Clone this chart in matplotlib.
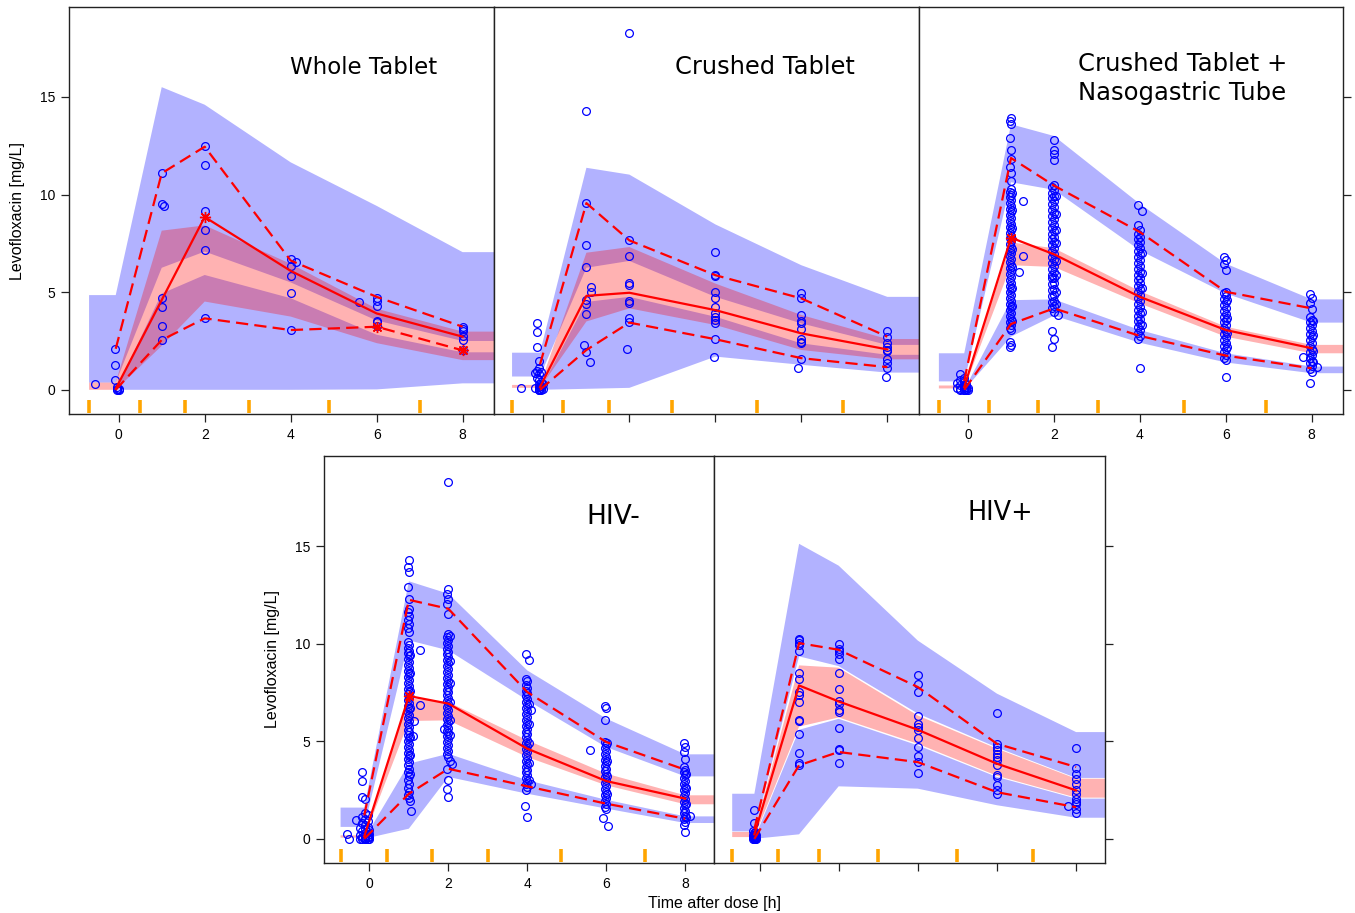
import numpy as np
import matplotlib
matplotlib.use("Agg")
import matplotlib.pyplot as plt
from matplotlib.transforms import blended_transform_factory

plt.rcParams['font.family'] = ['Liberation Sans', 'DejaVu Sans']

# ---------------- Whole Tablet ----------------
wt_bins = [-0.07, 1, 2, 4, 6, 8]
wt_edges = [-0.69, 0.50, 1.53, 3.02, 4.88, 7.0]
wt_ci05 = [[0, 0, 0, 0, 0.02, 0.33], [0, 4.93, 5.88, 4.69, 2.82, 1.92]]
wt_ci50 = [[0, 2.25, 4.52, 3.75, 2.39, 1.52], [0.37, 8.15, 8.42, 6.45, 4.15, 2.98]]
wt_ci95 = [[0.37, 6.25, 7.08, 5.5, 3.55, 2.5], [4.85, 15.5, 14.6, 11.65, 9.42, 7.05]]
wt_obs05 = [0, 2.55, 3.66, 3.06, 3.23, 2.02]
wt_obs50 = [0.05, 4.6, 8.85, 6.09, 3.91, 2.72]
wt_obs95 = [2.1, 11.09, 12.45, 6.62, 4.76, 3.23]
wt_pts = {
    -0.55: [0.3],
    -0.09: [2.08, 1.25, 0.51],
    -0.05: [0.14, 0.05, 0.0],
    0.0: [0.02, 0.0],
    1.0: [11.09, 9.52, 4.68, 4.25, 3.27, 2.55],
    1.05: [9.39],
    2.0: [12.5, 11.5, 9.18, 8.16, 7.14, 3.66],
    4.0: [6.72, 6.34, 5.82, 4.98, 3.06],
    4.12: [6.55],
    5.6: [4.5],
    6.0: [4.71, 4.54, 4.3, 3.54, 3.45, 3.26],
    8.0: [3.23, 3.1, 3.02, 2.76, 2.53, 2.05],
}

# ---------------- Crushed Tablet ----------------
ct_bins = [-0.08, 1, 2, 4, 6, 8]
ct_edges = [-0.73, 0.46, 1.52, 2.99, 4.97, 6.98]
ct_ci05 = [[0, 0.05, 0.1, 1.7, 1.28, 0.88], [0, 4.5, 4.76, 3.74, 2.38, 1.79]]
ct_ci50 = [[0.1, 3.5, 4.17, 3.32, 2.04, 1.56], [0.25, 7.02, 7.31, 5.44, 3.83, 2.6]]
ct_ci95 = [[0.68, 6.25, 6.6, 4.76, 3.4, 2.3], [1.9, 11.37, 11.02, 8.47, 6.38, 4.76]]
ct_obs05 = [0, 2.04, 3.44, 2.59, 1.62, 1.16]
ct_obs50 = [0.14, 4.81, 4.97, 4.08, 2.89, 2.07]
ct_obs95 = [1.3, 9.56, 7.65, 5.87, 4.68, 2.72]
ct_pts = {
    -0.52: [0.07],
    -0.2: [0.85, 0.1],
    -0.16: [3.4, 2.94, 2.18, 0.94, 0.6],
    -0.1: [1.5, 1.1, 0.8, 0.5, 0.3, 0.15, 0.05, 0.0, 0.0],
    -0.05: [0.9, 0.4, 0.2, 0.1, 0.0],
    0.0: [0.3, 0.05],
    0.95: [2.3],
    1.0: [14.3, 9.56, 7.4, 6.28, 4.6, 4.39, 3.88, 1.96],
    1.08: [1.43],
    1.1: [5.24, 5.02],
    1.95: [2.09],
    2.0: [18.27, 7.65, 6.84, 5.48, 5.36, 4.56, 4.47, 3.66, 3.49],
    3.96: [1.67],
    4.0: [7.06, 5.87, 5.82, 5.02, 4.71, 4.25, 3.95, 3.74, 3.6, 3.4, 2.6],
    5.93: [1.1],
    6.0: [4.98, 4.68, 3.83, 3.52, 3.43, 3.11, 2.6, 2.47, 2.38, 1.58],
    7.97: [0.68],
    8.0: [3.0, 2.69, 2.38, 2.21, 2.04, 2.0, 1.56, 1.36, 1.1],
}

# ---------------- Crushed Tablet + Nasogastric Tube ----------------
ng_bins = [-0.09, 1, 2, 4, 6, 8]
ng_edges = [-0.68, 0.48, 1.62, 3.03, 5.03, 6.93]
ng_ci05 = [[0, 2.72, 3.8, 2.41, 1.4, 0.85], [0, 4.59, 4.63, 3.06, 1.87, 1.19]]
ng_ci50 = [[0.07, 6.38, 6.29, 4.42, 2.72, 1.87], [0.22, 7.55, 7.25, 5.05, 3.23, 2.3]]
ng_ci95 = [[0.43, 10.63, 10.24, 7.14, 4.93, 3.44], [1.87, 13.6, 13.0, 9.52, 6.46, 4.63]]
ng_obs05 = [0, 3.37, 4.17, 2.76, 1.75, 1.1]
ng_obs50 = [0.14, 7.79, 6.94, 4.76, 3.06, 2.13]
ng_obs95 = [0.45, 11.87, 10.46, 8.08, 5.02, 4.17]
ng_pts = {
    -0.25: [0.35, 0.1],
    -0.18: [0.8, 0.5, 0.25, 0.05, 0.0],
    -0.1: [0.6, 0.4, 0.2, 0.1, 0.0, 0.0],
    -0.04: [0.3, 0.15, 0.05, 0.0],
    0.0: [0.1, 0.0],
    0.97: [13.75, 12.9, 11.4, 10.15, 9.85, 9.55, 9.25, 8.95, 8.65, 8.35, 8.05, 7.75, 7.45, 7.15,
           6.85, 6.55, 6.25, 5.95, 5.6, 5.3, 5.0, 4.7, 4.4, 4.1, 3.8, 3.45, 3.15, 2.45, 2.2],
    1.0: [13.9, 13.6, 12.3, 11.8, 11.1, 10.7, 10.3, 10.0, 9.7, 9.4, 9.1, 8.8, 8.5, 8.2, 7.9, 7.6,
          7.3, 7.0, 6.7, 6.4, 6.1, 5.8, 5.45, 5.15, 4.85, 4.55, 4.25, 3.95, 3.65, 3.3, 3.05, 2.3],
    1.03: [10.1, 9.2, 8.3, 7.2, 6.3, 5.2, 4.3, 3.5],
    1.18: [6.04],
    1.29: [9.66, 6.84],
    1.96: [10.4, 10.1, 9.8, 9.5, 9.2, 8.9, 8.6, 8.3, 8.0, 7.7, 7.4, 7.1, 6.8, 6.5, 6.2, 5.9,
           5.7, 5.4, 5.1, 4.8, 4.5, 4.2, 3.0, 2.2],
    2.0: [12.8, 12.3, 12.07, 11.77, 10.5, 10.25, 9.95, 9.65, 9.35, 9.05, 8.75, 8.45, 8.15, 7.85,
          7.55, 7.25, 6.95, 6.65, 6.35, 6.05, 5.75, 5.45, 5.15, 4.85, 4.55, 4.3, 4.0, 2.6],
    2.04: [9.9, 9.0, 8.2, 7.5, 6.6, 5.9, 5.0, 4.4],
    2.1: [3.85],
    3.96: [9.44, 8.42, 8.0, 7.7, 7.4, 7.1, 6.8, 6.5, 6.2, 5.9, 5.6, 5.3, 5.0, 4.7, 4.4, 4.1,
           3.8, 3.5, 3.2, 2.9, 2.6],
    4.0: [8.16, 7.85, 7.55, 7.25, 6.95, 6.65, 6.35, 6.05, 5.75, 5.45, 5.15, 4.85, 4.55, 4.25,
          3.95, 3.65, 3.35, 3.05, 2.75, 1.14],
    4.05: [9.15, 7.0, 6.0, 5.2, 4.0, 3.3],
    5.97: [6.8, 6.46, 4.95, 4.65, 4.35, 4.05, 3.75, 3.45, 3.15, 2.85, 2.55, 2.25, 1.95, 1.65],
    6.0: [6.67, 6.12, 5.0, 4.8, 4.5, 4.2, 3.9, 3.6, 3.3, 3.0, 2.7, 2.4, 2.1, 1.8, 1.53, 0.65],
    6.03: [4.6, 3.7, 2.9, 2.2],
    7.8: [1.7],
    7.97: [4.93, 4.42, 3.74, 3.45, 3.15, 2.85, 2.55, 2.25, 1.95, 1.65, 1.35, 1.05, 0.34],
    8.0: [4.68, 4.12, 3.6, 3.3, 3.0, 2.7, 2.4, 2.1, 1.8, 1.5, 1.2, 0.9],
    8.03: [3.5, 2.8, 2.0, 1.4],
    8.13: [1.19],
}

# ---------------- HIV- ----------------
hn_bins = [-0.13, 1, 2, 4, 6, 8]
hn_edges = [-0.73, 0.45, 1.59, 3.0, 4.86, 6.99]
hn_ci05 = [[0, 0.52, 3.17, 2.31, 1.55, 0.81], [0, 3.85, 4.36, 3.0, 2.0, 1.15]]
hn_ci50 = [[0.06, 6.04, 6.07, 4.19, 2.74, 1.77], [0.18, 7.2, 7.01, 5.05, 3.34, 2.23]]
hn_ci95 = [[0.61, 10.17, 9.66, 7.1, 4.7, 3.2], [1.6, 13.2, 12.56, 8.63, 6.16, 4.33]]
hn_obs05 = [0, 2.31, 3.59, 2.69, 1.8, 1.03]
hn_obs50 = [0.12, 7.32, 6.93, 4.62, 2.96, 2.06]
hn_obs95 = [1.2, 12.25, 11.79, 7.52, 4.96, 3.54]
hn_pts = {
    -0.57: [0.26],
    -0.52: [0.0],
    -0.35: [0.95],
    -0.25: [0.55, 0.2, 0.0],
    -0.2: [3.42, 2.95, 2.15, 1.1, 0.8, 0.4, 0.1, 0.0],
    -0.1: [2.06, 1.3, 1.0, 0.7, 0.5, 0.3, 0.15, 0.05, 0.0, 0.0],
    -0.04: [1.2, 0.9, 0.6, 0.35, 0.2, 0.1, 0.0],
    0.0: [0.45, 0.25, 0.1, 0.0],
    0.97: [13.95, 12.9, 11.6, 11.2, 10.8, 10.1, 9.8, 9.5, 9.2, 8.9, 8.6, 8.3, 8.0, 7.7, 7.4, 7.1,
           6.8, 6.5, 6.2, 5.9, 5.6, 5.3, 5.0, 4.7, 4.4, 4.1, 3.8, 3.4, 3.0, 2.6, 2.25],
    1.0: [14.3, 13.7, 12.3, 11.8, 11.4, 11.0, 10.6, 9.95, 9.65, 9.35, 9.05, 8.75, 8.45, 8.15,
          7.85, 7.55, 7.25, 6.95, 6.65, 6.35, 6.05, 5.75, 5.45, 5.15, 4.85, 4.55, 4.25, 3.95,
          3.6, 3.2, 2.8, 2.4, 2.1],
    1.03: [9.4, 8.5, 7.6, 6.7, 5.2, 4.3, 3.3, 1.95],
    1.06: [1.41],
    1.1: [5.25],
    1.14: [6.03],
    1.27: [9.66, 6.84],
    1.9: [5.64],
    1.96: [12.56, 12.05, 10.35, 10.05, 9.75, 9.45, 9.15, 8.85, 8.55, 8.25, 7.95, 7.65, 7.35,
           7.05, 6.75, 6.45, 6.15, 5.85, 5.55, 5.25, 4.95, 4.65, 4.35, 3.6, 2.57],
    2.0: [18.31, 12.82, 12.3, 11.54, 10.5, 10.2, 9.9, 9.6, 9.3, 9.0, 8.7, 8.4, 8.1, 7.8, 7.5,
          7.2, 6.9, 6.6, 6.3, 6.0, 5.7, 5.4, 5.1, 4.8, 4.5, 4.2, 3.0, 2.14],
    2.04: [10.4, 9.1, 8.0, 7.0, 6.1, 5.3, 4.0],
    2.09: [3.85],
    3.94: [1.66],
    3.97: [9.45, 8.2, 7.9, 7.6, 7.3, 7.0, 6.7, 6.4, 6.1, 5.8, 5.5, 5.2, 4.9, 4.6, 4.3, 4.0,
           3.7, 3.4, 3.1, 2.8, 2.5],
    4.0: [8.1, 7.75, 7.45, 7.15, 6.85, 6.55, 6.25, 5.95, 5.65, 5.35, 5.05, 4.75, 4.45, 4.15,
          3.85, 3.55, 3.25, 2.95, 2.65, 1.12],
    4.04: [9.18, 6.9, 5.9, 4.9, 3.9, 3.0],
    4.1: [6.58, 2.8],
    5.6: [4.53],
    5.93: [1.08],
    5.97: [6.79, 6.1, 4.96, 4.65, 4.35, 4.05, 3.75, 3.45, 3.15, 2.85, 2.55, 2.25, 1.95, 1.65],
    6.0: [6.72, 4.8, 4.5, 4.2, 3.9, 3.6, 3.3, 3.0, 2.7, 2.4, 2.1, 1.8, 1.55],
    6.03: [4.9, 4.0, 3.2, 2.3],
    6.04: [0.64],
    7.97: [4.91, 4.45, 3.68, 3.4, 3.1, 2.8, 2.5, 2.2, 1.9, 1.6, 1.3, 1.0, 0.7],
    8.0: [4.7, 4.1, 3.55, 3.25, 2.95, 2.65, 2.35, 2.05, 1.75, 1.45, 1.15, 0.85, 0.35],
    8.03: [3.3, 2.6, 1.8, 1.1],
    8.12: [1.17],
}

# ---------------- HIV+ ----------------
hp_bins = [-0.13, 1, 2, 4, 6, 8]
hp_edges = [-0.69, 0.46, 1.50, 3.0, 5.0, 6.91]
hp_ci05 = [[0, 0.23, 2.69, 2.57, 1.72, 1.08], [0, 5.59, 6.15, 4.79, 3.17, 2.06]]
hp_ci50 = [[0.09, 5.75, 6.22, 4.87, 3.23, 2.11], [0.35, 8.89, 8.77, 6.32, 4.62, 3.08]]
hp_ci95 = [[0.38, 9.35, 8.85, 6.42, 4.68, 3.12], [2.31, 15.12, 14.0, 10.16, 7.44, 5.47]]
hp_obs05 = [0, 3.77, 4.45, 3.93, 2.39, 1.62]
hp_obs50 = [0.23, 7.86, 7.04, 5.59, 3.85, 2.48]
hp_obs95 = [0.5, 10.03, 9.69, 7.78, 4.87, 3.68]
hp_pts = {
    -0.16: [0.4, 0.2, 0.1, 0.0],
    -0.14: [1.46, 0.83, 0.3, 0.15, 0.05, 0.0],
    -0.12: [0.35, 0.25, 0.1, 0.0],
    -0.1: [0.2, 0.05, 0.0],
    1.0: [10.25, 10.17, 10.03, 9.91, 9.65, 8.5, 8.2, 7.55, 7.35, 7.0, 6.1, 6.03, 5.39, 4.4,
          3.88, 3.77],
    2.0: [10.0, 9.74, 9.62, 9.45, 9.23, 8.5, 7.66, 7.04, 6.92, 6.62, 6.5, 5.7, 4.62, 4.53, 3.88],
    4.0: [8.41, 7.91, 7.52, 6.32, 5.9, 5.73, 5.56, 5.18, 4.7, 4.23, 3.93, 3.39],
    6.0: [6.45, 4.87, 4.7, 4.53, 4.36, 4.19, 4.02, 3.76, 3.25, 3.17, 2.74, 2.48, 2.31],
    7.8: [1.66],
    8.0: [4.65, 3.65, 3.34, 3.08, 2.79, 2.52, 2.31, 2.06, 1.89, 1.77, 1.55, 1.32],
}

W, H = 1355, 913
top_y, top_h = (913 - 414.3) / H, 407.6 / H
bot_y, bot_h = (913 - 863.3) / H, 407.3 / H

panels = [
    dict(pos=[69.3 / W, top_y, 424.7 / W, top_h], bins=wt_bins, edges=wt_edges,
         ci=(wt_ci05, wt_ci50, wt_ci95), obs=(wt_obs05, wt_obs50, wt_obs95), pts=wt_pts,
         left=True, right=False, xlab=True,
         titles=[('Whole Tablet', 0.520, 0.835, 16.5)]),
    dict(pos=[494 / W, top_y, 424.7 / W, top_h], bins=ct_bins, edges=ct_edges,
         ci=(ct_ci05, ct_ci50, ct_ci95), obs=(ct_obs05, ct_obs50, ct_obs95), pts=ct_pts,
         left=False, right=False, xlab=False,
         titles=[('Crushed Tablet', 0.4265, 0.835, 17.4)]),
    dict(pos=[918.7 / W, top_y, 424.3 / W, top_h], bins=ng_bins, edges=ng_edges,
         ci=(ng_ci05, ng_ci50, ng_ci95), obs=(ng_obs05, ng_obs50, ng_obs95), pts=ng_pts,
         left=False, right=True, xlab=True,
         titles=[('Crushed Tablet +', 0.3755, 0.843, 17.5),
                 ('Nasogastric Tube', 0.3755, 0.771, 17.5)]),
    dict(pos=[324 / W, bot_y, 390 / W, bot_h], bins=hn_bins, edges=hn_edges,
         ci=(hn_ci05, hn_ci50, hn_ci95), obs=(hn_obs05, hn_obs50, hn_obs95), pts=hn_pts,
         left=True, right=False, xlab=True,
         titles=[('HIV-', 0.6716, 0.833, 19)]),
    dict(pos=[714 / W, bot_y, 391 / W, bot_h], bins=hp_bins, edges=hp_edges,
         ci=(hp_ci05, hp_ci50, hp_ci95), obs=(hp_obs05, hp_obs50, hp_obs95), pts=hp_pts,
         left=False, right=True, xlab=False,
         titles=[('HIV+', 0.648, 0.843, 18.4)]),
]

fig = plt.figure(figsize=(W / 100, H / 100), dpi=100)

for p in panels:
    ax = fig.add_axes(p['pos'])
    x = np.asarray(p['bins'], float)
    xs = np.r_[p['edges'][0], x, 9.6]
    ci05, ci50, ci95 = p['ci']

    # simulated confidence bands
    for ci, col in [(ci05, 'blue'), (ci95, 'blue'), (ci50, 'red')]:
        lo = np.asarray(ci[0], float)
        hi = np.asarray(ci[1], float)
        ax.fill_between(xs, np.r_[lo[0], lo, lo[-1]], np.r_[hi[0], hi, hi[-1]],
                        facecolor=col, alpha=0.3, lw=0, zorder=1)

    # observations
    for t, cs in p['pts'].items():
        ax.plot([t] * len(cs), cs, 'o', ms=5.6, mfc='none', mec='blue', mew=0.9, zorder=3)

    # observed percentiles
    o05, o50, o95 = p['obs']
    ax.plot(x, o50, '-', color='red', lw=1.6, zorder=4)
    ax.plot(x, o05, '--', color='red', lw=1.6, dashes=(5.5, 2.8), zorder=4)
    ax.plot(x, o95, '--', color='red', lw=1.6, dashes=(5.5, 2.8), zorder=4)
    for obs, ci in [(o05, ci05), (o50, ci50), (o95, ci95)]:
        obs = np.asarray(obs, float)
        out = (obs < np.asarray(ci[0])) | (obs > np.asarray(ci[1]))
        ax.plot(x[out], obs[out], ls='none', marker=(8, 2, 0), ms=8, mec='red', mew=1.0, zorder=5)

    # bin boundaries
    tr = blended_transform_factory(ax.transData, ax.transAxes)
    ax.vlines(p['edges'], 0.004, 0.036, transform=tr, color='orange', lw=2.6, zorder=2)

    ax.set_xlim(-1.15, 8.73)
    ax.set_ylim(-1.255, 19.62)
    ax.set_xticks([0, 2, 4, 6, 8])
    ax.set_yticks([0, 5, 10, 15])
    ax.tick_params(axis='both', direction='out', length=6, width=0.9, labelsize=10,
                   color='#222222', pad=4, top=False, labeltop=False, bottom=True,
                   labelbottom=p['xlab'], left=p['left'], labelleft=p['left'],
                   right=p['right'], labelright=False)
    for s in ax.spines.values():
        s.set_linewidth(1.0)
        s.set_color('#222222')

    for txt, tx, ty, fs in p['titles']:
        ax.text(tx, ty, txt, transform=ax.transAxes, ha='left', va='baseline',
                fontsize=fs, family='DejaVu Sans', zorder=6)

fig.text(18 / W, 1 - 211 / H, 'Levofloxacin [mg/L]', rotation=90, ha='center', va='center',
         fontsize=11.5)
fig.text(273 / W, 1 - 659 / H, 'Levofloxacin [mg/L]', rotation=90, ha='center', va='center',
         fontsize=11.5)
fig.text(714 / W, 1 - 903 / H, 'Time after dose [h]', ha='center', va='center', fontsize=11.5)

fig.savefig('out.png', dpi=100, facecolor='white')
